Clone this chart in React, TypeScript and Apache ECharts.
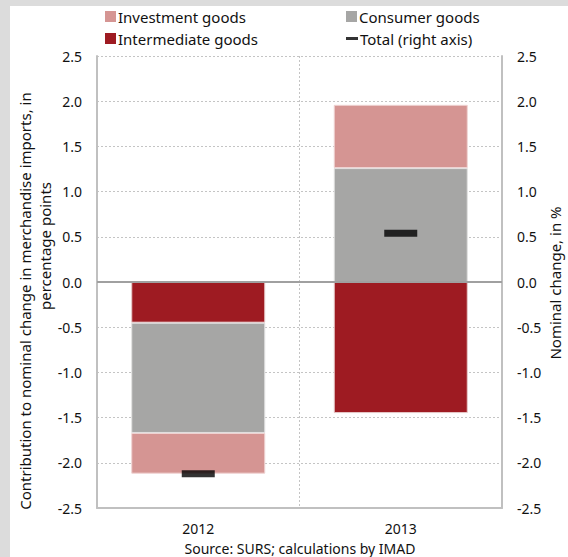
import React, { useEffect, useRef } from "react";
import * as echarts from "echarts";

const categories = ["2012", "2013"];
const intermediateGoods = [-0.45, -1.45];
const consumerGoods = [-1.22, 1.26];
const investmentGoods = [-0.45, 0.7];
const totalRight = [-2.12, 0.54];
const yTicks = { min: -2.5, max: 2.5, interval: 0.5 };

const FONT = "'Noto Sans', sans-serif";
const TXT = "#111111";

export default function App() {
  const ref = useRef<HTMLDivElement>(null);
  useEffect(() => {
    document.body.style.margin = "0";
    const chart = echarts.init(ref.current!, null, { renderer: "svg" });
    const axisLabel = (pos: "left" | "right") => ({
      show: true,
      color: TXT,
      fontSize: 14,
      fontFamily: FONT,
      margin: 15,
      align: pos === "left" ? "right" : "left",
      formatter: (v: number) => v.toFixed(1),
    });
    const legendBase = {
      orient: "horizontal",
      itemWidth: 11,
      itemHeight: 11,
      itemGap: 0,
      textStyle: { color: TXT, fontSize: 15, fontFamily: FONT, padding: [0, 0, 0, -3] },
      itemStyle: { borderWidth: 0 },
      selectedMode: false,
    };
    chart.setOption({
      animation: false,
      backgroundColor: "#ffffff",
      textStyle: { fontFamily: FONT },
      graphic: [
        { type: "rect", left: 0, top: 0, shape: { width: 10, height: 557 }, style: { fill: "#dcdcdc" }, silent: true },
        { type: "rect", left: 0, top: 0, shape: { width: 568, height: 6 }, style: { fill: "#dcdcdc" }, silent: true },
        {
          type: "text",
          x: 25,
          y: 301,
          rotation: Math.PI / 2,
          style: {
            text: "Contribution to nominal change in merchandise imports, in",
            fill: TXT,
            font: `15px ${FONT}`,
            align: "center",
            verticalAlign: "middle",
          },
        },
        {
          type: "text",
          x: 45,
          y: 246,
          rotation: Math.PI / 2,
          style: {
            text: "percentage points",
            fill: TXT,
            font: `15px ${FONT}`,
            align: "center",
            verticalAlign: "middle",
          },
        },
        {
          type: "text",
          x: 555,
          y: 283,
          rotation: Math.PI / 2,
          style: {
            text: "Nominal change, in %",
            fill: TXT,
            font: `15px ${FONT}`,
            align: "center",
            verticalAlign: "middle",
          },
        },
        {
          type: "text",
          x: 300,
          y: 548,
          style: {
            text: "Source: SURS; calculations by IMAD",
            fill: TXT,
            font: `14px ${FONT}`,
            align: "center",
            verticalAlign: "middle",
          },
        },
      ],
      legend: [
        { ...legendBase, left: 100, top: 4, data: [{ name: "Investment goods", icon: "rect" }] },
        { ...legendBase, left: 341, top: 4, data: [{ name: "Consumer goods", icon: "rect" }] },
        { ...legendBase, left: 100, top: 26, data: [{ name: "Intermediate goods", icon: "rect" }] },
        {
          ...legendBase,
          left: 341,
          top: 26,
          itemWidth: 12,
          itemHeight: 3,
          data: [{ name: "Total (right axis)", icon: "rect" }],
        },
      ],
      grid: { left: 97, right: 66, top: 56, bottom: 49 },
      xAxis: {
        type: "category",
        data: categories,
        axisLine: { onZero: false, lineStyle: { color: "#c0c0c0", width: 2 } },
        axisTick: { show: false },
        axisLabel: { color: TXT, fontSize: 14, fontFamily: FONT, margin: 13 },
        splitLine: { show: true, lineStyle: { color: "#c4c4c4", type: [2, 2], width: 1 } },
      },
      yAxis: [
        {
          type: "value",
          ...yTicks,
          position: "left",
          axisLine: { show: true, lineStyle: { color: "#c0c0c0", width: 2 } },
          axisTick: { show: false },
          axisLabel: axisLabel("left"),
          splitLine: { show: true, lineStyle: { color: "#c4c4c4", type: [2, 2], width: 1 } },
        },
        {
          type: "value",
          ...yTicks,
          position: "right",
          axisLine: { show: true, lineStyle: { color: "#c0c0c0", width: 2 } },
          axisTick: { show: false },
          axisLabel: axisLabel("right"),
          splitLine: { show: false },
        },
      ],
      series: [
        {
          name: "Intermediate goods",
          type: "bar",
          stack: "s",
          data: intermediateGoods,
          barWidth: 134,
          itemStyle: { color: "#9e1b22", borderColor: "#e6c9c9", borderWidth: 1 },
          markLine: {
            silent: true,
            symbol: "none",
            label: { show: false },
            lineStyle: { color: "#a0a0a0", width: 2, type: "solid" },
            data: [{ yAxis: 0 }],
          },
        },
        {
          name: "Consumer goods",
          type: "bar",
          stack: "s",
          data: consumerGoods,
          barWidth: 134,
          itemStyle: { color: "#a6a6a5", borderColor: "#e0e0e0", borderWidth: 1 },
        },
        {
          name: "Investment goods",
          type: "bar",
          stack: "s",
          data: investmentGoods,
          barWidth: 134,
          itemStyle: { color: "#d59593", borderColor: "#efd3d2", borderWidth: 1 },
        },
        {
          name: "Total (right axis)",
          type: "scatter",
          yAxisIndex: 1,
          data: totalRight,
          symbol: "rect",
          symbolSize: [33, 7],
          itemStyle: { color: "#000000" },
          z: 5,
        },
      ],
    });
    return () => chart.dispose();
  }, []);
  return <div ref={ref} style={{ width: 568, height: 557 }} />;
}
